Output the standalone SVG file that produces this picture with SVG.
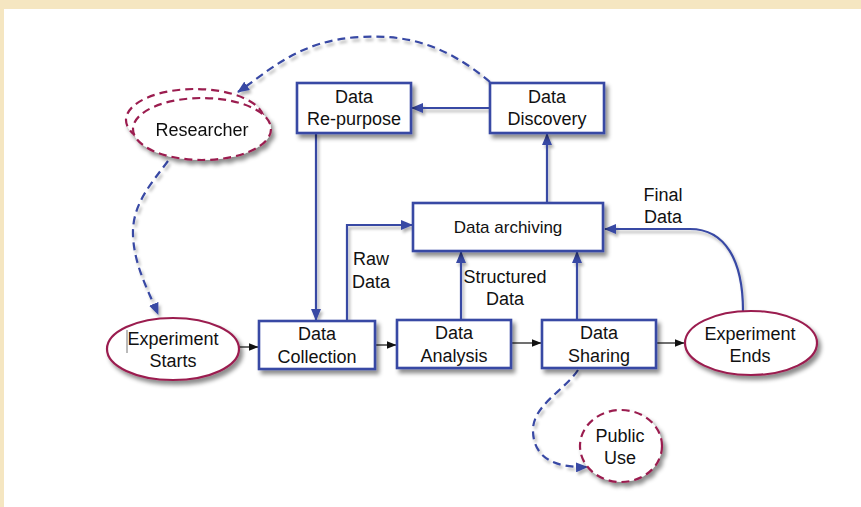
<svg xmlns="http://www.w3.org/2000/svg" width="861" height="507" viewBox="0 0 861 507">
  <defs>
    <filter id="shadow" x="-20%" y="-20%" width="150%" height="160%">
      <feDropShadow dx="3" dy="4" stdDeviation="2.2" flood-color="#000" flood-opacity="0.45"/>
    </filter>
    <filter id="lineShadow" x="-10%" y="-10%" width="130%" height="130%">
      <feDropShadow dx="2" dy="3" stdDeviation="1.8" flood-color="#000" flood-opacity="0.3"/>
    </filter>
    <marker id="blueArrow" viewBox="0 0 12 10" refX="11" refY="5" markerWidth="12" markerHeight="10" markerUnits="userSpaceOnUse" orient="auto">
      <path d="M0,0 L12,5 L0,10 z" fill="#3848a4"/>
    </marker>
    <marker id="blackArrow" viewBox="0 0 10 8" refX="9.5" refY="4" markerWidth="10" markerHeight="8" markerUnits="userSpaceOnUse" orient="auto">
      <path d="M0,0 L10,4 L0,8 z" fill="#111"/>
    </marker>
  </defs>
  <style>
    .box { fill: #fff; stroke: #3848a4; stroke-width: 2.6; }
    .oval { fill: #fff; stroke: #9b1f50; stroke-width: 2.2; }
    .dashed { stroke-dasharray: 8 5; }
    .label { font-family: "Liberation Sans", Arial, sans-serif; font-size: 18px; fill: #111; text-anchor: middle; }
    .flow { fill: none; stroke: #3848a4; stroke-width: 2.2; }
    .step { fill: none; stroke: #111; stroke-width: 1.2; }
  </style>

  <!-- page background with cream frame -->
  <rect x="0" y="0" width="861" height="507" fill="#f5e6c1"/>
  <rect x="4" y="9" width="857" height="498" fill="#fff"/>

  <!-- connectors -->
  <g id="connectors">
    <g filter="url(#lineShadow)">
      <path class="flow dashed" d="M490,82 C440,40 400,35 360,37 C300,40 270,70 238,92" marker-end="url(#blueArrow)"/>
      <path class="flow dashed" d="M168,161 C150,185 132,205 133,235 C134,265 148,290 158,314" marker-end="url(#blueArrow)"/>
      <path class="flow dashed" d="M578,370 C565,390 533,405 533,430 C533,458 555,468 587,467" marker-end="url(#blueArrow)"/>
      <line class="flow" x1="490" y1="108" x2="412" y2="108" marker-end="url(#blueArrow)"/>
      <line class="flow" x1="547" y1="203" x2="547" y2="134" marker-end="url(#blueArrow)"/>
      <line class="flow" x1="316" y1="133" x2="316" y2="320" marker-end="url(#blueArrow)"/>
      <polyline class="flow" points="347,321 347,225 412,225" marker-end="url(#blueArrow)"/>
      <line class="flow" x1="461" y1="320" x2="461" y2="252" marker-end="url(#blueArrow)"/>
      <line class="flow" x1="577" y1="320" x2="577" y2="252" marker-end="url(#blueArrow)"/>
      <path class="flow" d="M743,311 C743,260 725,229 690,229 L605,229" marker-end="url(#blueArrow)"/>
    </g>
    <line class="step" x1="239" y1="347" x2="258" y2="347" marker-end="url(#blackArrow)"/>
    <line class="step" x1="375" y1="345" x2="396" y2="345" marker-end="url(#blackArrow)"/>
    <line class="step" x1="511" y1="343" x2="541" y2="343" marker-end="url(#blackArrow)"/>
    <line class="step" x1="656" y1="343" x2="684" y2="343" marker-end="url(#blackArrow)"/>
  </g>

  <!-- connector labels -->
  <g id="connector-labels">
    <text class="label" x="371" y="265">Raw</text>
    <text class="label" x="371" y="288">Data</text>
    <text class="label" x="505" y="283">Structured</text>
    <text class="label" x="505" y="305">Data</text>
    <text class="label" x="663" y="201">Final</text>
    <text class="label" x="663" y="223">Data</text>
  </g>

  <g id="researcher" filter="url(#shadow)">
    <ellipse class="oval dashed" cx="195" cy="120" rx="69" ry="31"/>
    <ellipse class="oval dashed" cx="202" cy="129" rx="69" ry="31"/>
    <text class="label" x="202" y="136">Researcher</text>
  </g>

  <g id="data-repurpose">
    <rect class="box" x="297" y="83" width="114" height="50" filter="url(#shadow)"/>
    <text class="label" x="354" y="103">Data</text>
    <text class="label" x="354" y="125">Re-purpose</text>
  </g>

  <g id="data-discovery">
    <rect class="box" x="490" y="83" width="114" height="50" filter="url(#shadow)"/>
    <text class="label" x="547" y="103">Data</text>
    <text class="label" x="547" y="125">Discovery</text>
  </g>

  <g id="data-archiving">
    <rect class="box" x="413" y="203" width="190" height="48" filter="url(#shadow)"/>
    <text class="label" x="508" y="233" style="font-size:17px">Data archiving</text>
  </g>

  <g id="experiment-starts">
    <ellipse class="oval" cx="173" cy="349" rx="66" ry="31" filter="url(#shadow)"/>
    <text class="label" x="173" y="345">Experiment</text>
    <text class="label" x="173" y="367">Starts</text>
    <line x1="127" y1="330" x2="127" y2="353" stroke="#777" stroke-width="1"/>
  </g>

  <g id="data-collection">
    <rect class="box" x="259" y="321" width="116" height="48" filter="url(#shadow)"/>
    <text class="label" x="317" y="340">Data</text>
    <text class="label" x="317" y="363">Collection</text>
  </g>

  <g id="data-analysis">
    <rect class="box" x="397" y="320" width="114" height="48" filter="url(#shadow)"/>
    <text class="label" x="454" y="339">Data</text>
    <text class="label" x="454" y="362">Analysis</text>
  </g>

  <g id="data-sharing">
    <rect class="box" x="542" y="320" width="114" height="48" filter="url(#shadow)"/>
    <text class="label" x="599" y="339">Data</text>
    <text class="label" x="599" y="362">Sharing</text>
  </g>

  <g id="experiment-ends">
    <ellipse class="oval" cx="751" cy="343" rx="66" ry="32" filter="url(#shadow)"/>
    <text class="label" x="750" y="340">Experiment</text>
    <text class="label" x="750" y="362">Ends</text>
  </g>

  <g id="public-use">
    <ellipse class="oval dashed" cx="621" cy="446" rx="41" ry="36" filter="url(#shadow)"/>
    <text class="label" x="620" y="442">Public</text>
    <text class="label" x="620" y="464">Use</text>
  </g>
</svg>
